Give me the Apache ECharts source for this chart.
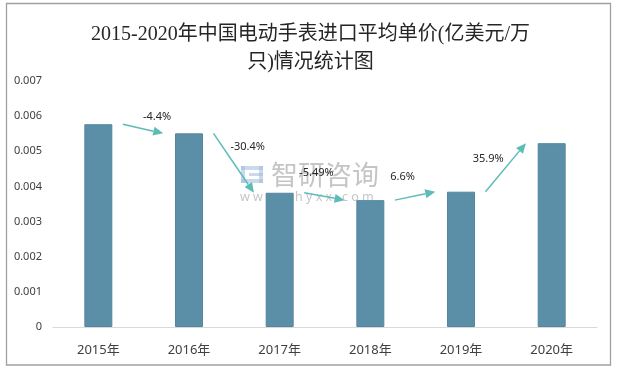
<!DOCTYPE html>
<html>
<head>
<meta charset="utf-8">
<script src="https://cdn.jsdelivr.net/npm/echarts@6/dist/echarts.min.js"></script>
<style>html,body{margin:0;padding:0;background:#fff}#c{width:621px;height:370px}</style>
</head>
<body>
<div id="c"></div>
<script>
var categories = ['2015年', '2016年', '2017年', '2018年', '2019年', '2020年'];
var prices = [0.00577, 0.00551, 0.00382, 0.00361, 0.00385, 0.00523];
var growthLabels = ['-4.4%', '-30.4%', '-5.49%', '6.6%', '35.9%'];
var yTicks = { min: 0, max: 0.007, interval: 0.001 };
var titleText = '2015-2020年中国电动手表进口平均单价(亿美元/万\n只)情况统计图';

// label placement relative to arrow midpoints (px)
var labelShift = [[14, -11.5], [14, -16.5], [-8, -24], [-12.5, -19], [-17.5, -9]];

var arrowData = [];
for (var i = 0; i < prices.length - 1; i++) {
  arrowData.push([i, prices[i], prices[i + 1]]);
}

var chart = echarts.init(document.getElementById('c'), null, { renderer: 'canvas' });
var arrowColor = '#5bbcb8';

chart.setOption({
  animation: false,
  backgroundColor: '#ffffff',
  title: {
    text: titleText,
    left: 'center',
    top: 16,
    textStyle: {
      fontFamily: '"Liberation Serif", "Noto Sans CJK SC", serif',
      fontSize: 20,
      fontWeight: 'normal',
      color: '#262626',
      lineHeight: 28
    }
  },
  grid: { left: 53, right: 24, top: 81, bottom: 43 },
  xAxis: {
    type: 'category',
    data: categories,
    axisLine: { show: true, lineStyle: { color: '#d9d9d9', width: 1 } },
    axisTick: { show: false },
    axisLabel: {
      margin: 17,
      fontSize: 13,
      color: '#404040',
      fontFamily: '"Noto Sans", "Noto Sans CJK SC", sans-serif'
    }
  },
  yAxis: {
    type: 'value',
    min: yTicks.min,
    max: yTicks.max,
    interval: yTicks.interval,
    axisLine: { show: false },
    axisTick: { show: false },
    splitLine: { show: false },
    axisLabel: {
      margin: 11,
      fontSize: 11,
      color: '#404040',
      fontFamily: '"Noto Sans", sans-serif',
      formatter: function (v) { return v === 0 ? '0' : v.toFixed(3); }
    }
  },
  series: [
    {
      type: 'bar',
      data: prices,
      barWidth: 28,
      itemStyle: {
        color: '#5b8fa7',
        borderColor: '#53869e',
        borderWidth: 1
      },
      z: 2
    },
    {
      type: 'custom',
      data: arrowData,
      encode: { x: 0, y: [1, 2] },
      clip: false,
      z: 5,
      renderItem: function (params, api) {
        var idx = api.value(0);
        var p0 = api.coord([idx, api.value(1)]);
        var p1 = api.coord([idx + 1, api.value(2)]);
        var band = api.size([1, 0])[0];
        var x0 = p0[0] + band * 0.27, y0 = p0[1];
        var x1 = p1[0] - band * 0.284, y1 = p1[1];
        var ang = Math.atan2(y1 - y0, x1 - x0);
        var hl = 10, hw = 4.5;
        var bx = x1 - hl * Math.cos(ang), by = y1 - hl * Math.sin(ang);
        var nx = -Math.sin(ang), ny = Math.cos(ang);
        var mx = (x0 + x1) / 2, my = (y0 + y1) / 2;
        var sh = labelShift[params.dataIndex];
        return {
          type: 'group',
          children: [
            {
              type: 'line',
              shape: { x1: x0, y1: y0, x2: bx, y2: by },
              style: { stroke: arrowColor, lineWidth: 1.5 }
            },
            {
              type: 'polygon',
              shape: { points: [[x1, y1], [bx + nx * hw, by + ny * hw], [bx - nx * hw, by - ny * hw]] },
              style: { fill: arrowColor }
            },
            {
              type: 'text',
              x: mx + sh[0],
              y: my + sh[1],
              style: {
                text: growthLabels[params.dataIndex],
                fill: '#262626',
                fontSize: 11,
                fontFamily: '"Noto Sans", sans-serif',
                align: 'center',
                verticalAlign: 'middle'
              }
            }
          ]
        };
      }
    }
  ],
  graphic: [
    {
      type: 'rect',
      shape: { x: 6.5, y: 3.5, width: 604, height: 361.5 },
      style: { fill: 'none', stroke: '#a0a0a0', lineWidth: 1.3 },
      silent: true,
      z: 100
    },
    {
      type: 'group',
      z: 50,
      silent: true,
      children: [
        { type: 'rect', shape: { x: 241, y: 166, width: 22, height: 4 }, style: { fill: 'rgba(160,185,220,0.55)' } },
        { type: 'rect', shape: { x: 241, y: 166, width: 4, height: 17 }, style: { fill: 'rgba(160,185,220,0.55)' } },
        { type: 'rect', shape: { x: 249, y: 173, width: 14, height: 3 }, style: { fill: 'rgba(160,185,220,0.55)' } },
        { type: 'rect', shape: { x: 241, y: 179, width: 22, height: 4 }, style: { fill: 'rgba(160,185,220,0.55)' } },
        { type: 'rect', shape: { x: 259, y: 166, width: 4, height: 17 }, style: { fill: 'rgba(160,185,220,0.55)' } },
        {
          type: 'text',
          x: 271, y: 175,
          style: {
            text: '智研咨询',
            fontSize: 27,
            fontFamily: '"Noto Sans CJK SC", sans-serif',
            fill: 'rgba(150,150,150,0.55)',
            verticalAlign: 'middle'
          }
        },
        {
          type: 'text',
          x: 240, y: 197,
          style: {
            text: 'w w w . c h y x x . c o m',
            fontSize: 12.5,
            fontFamily: '"Noto Sans", sans-serif',
            fill: 'rgba(150,150,150,0.55)',
            verticalAlign: 'middle'
          }
        }
      ]
    }
  ]
});
</script>
</body>
</html>
